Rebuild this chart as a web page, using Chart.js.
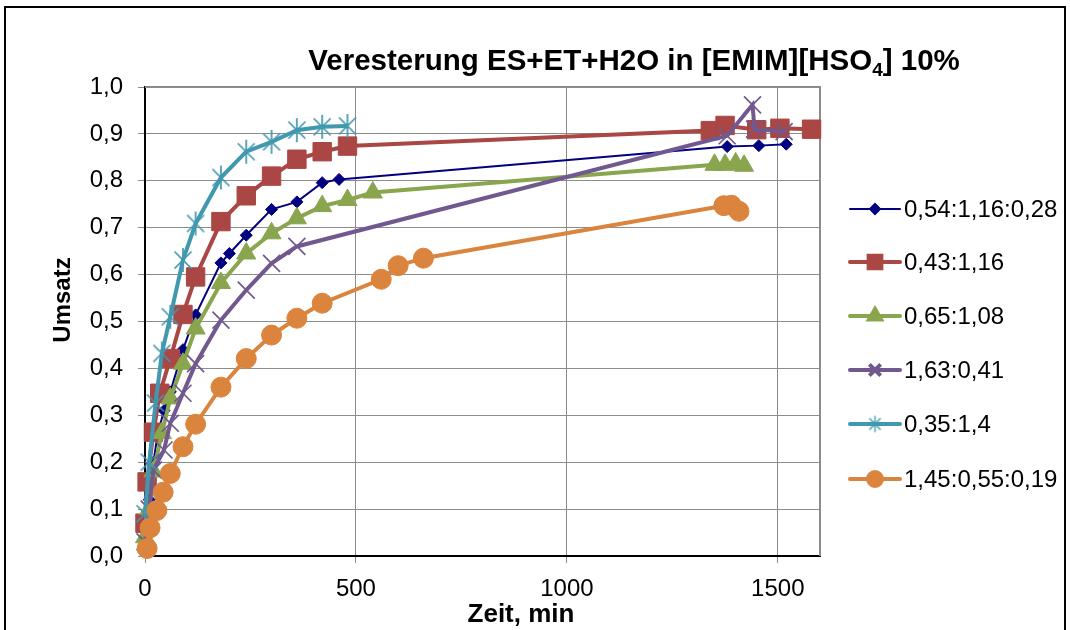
<!DOCTYPE html>
<html><head><meta charset="utf-8">
<script src="https://cdn.jsdelivr.net/npm/chart.js@4/dist/chart.umd.min.js"></script>
<style>html,body{margin:0;padding:0;background:#fff}#wrap{width:1070px;height:630px}</style>
</head><body><div id="wrap"><canvas id="c" width="1070" height="630"></canvas></div>
<script>
// ---- data ----
const seriesNames = ['0,54:1,16:0,28','0,43:1,16','0,65:1,08','1,63:0,41','0,35:1,4','1,45:0,55:0,19'];
const xTicks = [0, 500, 1000, 1500];
const xTitle = 'Zeit, min';
const yTitle = 'Umsatz';

const t1 = [0,10,20,30,45,60,90,120,180,200,240,300,360,420,460,1380,1455,1520];
const v1 = [0.04,0.12,0.2,0.26,0.31,0.35,0.44,0.514,0.625,0.645,0.684,0.739,0.755,0.796,0.803,0.873,0.875,0.878];

const t2 = [0,5,20,35,60,90,120,180,240,300,360,420,480,1340,1375,1450,1505,1580];
const v2 = [0.07,0.158,0.264,0.347,0.421,0.515,0.595,0.713,0.768,0.81,0.846,0.862,0.874,0.907,0.918,0.909,0.912,0.91];

const t3 = [0,10,20,40,60,90,120,180,240,300,360,420,480,540,1350,1375,1400,1420];
const v3 = [0.04,0.1,0.18,0.262,0.336,0.41,0.485,0.582,0.645,0.688,0.72,0.746,0.759,0.775,0.834,0.834,0.837,0.832];

const t4 = [0,10,20,45,60,90,120,180,240,300,360,1380,1440,1445,1515];
const v4 = [0.03,0.1,0.183,0.226,0.283,0.347,0.41,0.503,0.567,0.624,0.66,0.896,0.962,0.91,0.905];

const t5 = [0,10,25,40,60,90,120,180,240,300,360,420,480];
const v5 = [0.09,0.2,0.326,0.432,0.51,0.631,0.709,0.807,0.862,0.883,0.908,0.915,0.917];

const t6 = [5,12,28,43,60,90,120,180,240,300,360,420,560,600,660,1372,1390,1408];
const v6 = [0.016,0.06,0.097,0.136,0.176,0.233,0.281,0.36,0.421,0.471,0.507,0.539,0.59,0.619,0.635,0.747,0.748,0.735];

// ---- styles ----
const colors = ['#000080','#AA4643','#89A54E','#71588F','#4198AF','#DB843D'];
const FAM = '"Liberation Sans", Arial, sans-serif';

function makeStar(color, r, lw){
  const s = Math.ceil(2*r + lw*2), c = document.createElement('canvas');
  c.width = s; c.height = s;
  const g = c.getContext('2d'), m = s/2;
  g.strokeStyle = color; g.lineWidth = lw; g.lineCap='butt';
  const d = r*Math.SQRT1_2;
  g.beginPath();
  g.moveTo(m-d,m-d); g.lineTo(m+d,m+d);
  g.moveTo(m+d,m-d); g.lineTo(m-d,m+d);
  g.moveTo(m,m-r); g.lineTo(m,m+r);
  g.stroke();
  return c;
}
const starPlot = makeStar(colors[4], 12, 1.7);
const starLeg = makeStar(colors[4], 8, 1.4);

const pstyles = ['rectRot','rect','triangle','crossRot',starPlot,'circle'];
const pradius = [6,13,11,12,12,10];
const lwidths = [2,4,4,4,4,4];
const legStyles = ['rectRot','rect','triangle','crossRot',starLeg,'circle'];
const legRadius = [5,9,7,8,8,7];

const T = [t1,t2,t3,t4,t5,t6], V = [v1,v2,v3,v4,v5,v6];
const datasets = seriesNames.map((n,i)=>({
  label: n,
  data: T[i].map((t,k)=>({x:t, y:V[i][k]})),
  borderColor: colors[i],
  backgroundColor: colors[i],
  borderWidth: lwidths[i],
  pointStyle: pstyles[i],
  pointRadius: pradius[i],
  pointHoverRadius: pradius[i],
  pointBorderWidth: i===3 ? 1.7 : 1,
  pointBackgroundColor: colors[i],
  pointBorderColor: colors[i],
  tension: 0,
  clip: false,
  order: 6 - i
}));

const framePlugin = {
  id:'frame',
  beforeDatasetsDraw(chart){
    const {ctx, chartArea:a} = chart;
    ctx.save();
    ctx.strokeStyle = '#8c8c8c'; ctx.lineWidth = 2;
    ctx.beginPath();
    ctx.moveTo(a.left, a.top); ctx.lineTo(a.right, a.top); ctx.lineTo(a.right, a.bottom);
    ctx.stroke();
    ctx.restore();
  },
  afterDraw(chart){
    const ctx = chart.ctx;
    ctx.save();
    // outer frame
    ctx.strokeStyle = '#000'; ctx.lineWidth = 2;
    ctx.strokeRect(5, 7, 1060, 640);
    // title with subscript
    ctx.fillStyle = '#000';
    ctx.textBaseline = 'alphabetic';
    const big = 'bold 29.5px ' + FAM;
    const small = 'bold 19px ' + FAM;
    const p1 = 'Veresterung ES+ET+H2O in [EMIM][HSO', p2 = '4', p3 = '] 10%';
    ctx.font = big; const w1 = ctx.measureText(p1).width, w3 = ctx.measureText(p3).width;
    ctx.font = small; const w2 = ctx.measureText(p2).width;
    const cx = 634, by = 70;
    let x = cx - (w1+w2+w3)/2;
    ctx.font = big; ctx.textAlign='left'; ctx.fillText(p1, x, by); x += w1;
    ctx.font = small; ctx.fillText(p2, x, by+6); x += w2;
    ctx.font = big; ctx.fillText(p3, x, by);
    // axis titles
    ctx.textAlign = 'center'; ctx.textBaseline = 'middle';
    ctx.font = 'bold 26px ' + FAM;
    ctx.fillText(xTitle, 521, 615);
    ctx.save();
    ctx.translate(63, 300); ctx.rotate(-Math.PI/2);
    ctx.font = 'bold 24px ' + FAM;
    ctx.fillText(yTitle, 0, 0);
    ctx.restore();
    // legend
    const ys = [209,262,316,370,424,479];
    ctx.textAlign = 'left'; ctx.textBaseline = 'middle';
    ctx.font = '24px ' + FAM;
    seriesNames.forEach((n,i)=>{
      const y = ys[i];
      ctx.strokeStyle = colors[i]; ctx.lineWidth = lwidths[i]; ctx.lineCap='round';
      ctx.beginPath(); ctx.moveTo(850, y); ctx.lineTo(900, y); ctx.stroke();
      ctx.fillStyle = colors[i]; ctx.strokeStyle = colors[i]; ctx.lineCap='butt';
      Chart.helpers.drawPoint(ctx, {pointStyle: legStyles[i], radius: legRadius[i], borderWidth: i===3?1.5:1, rotation:0}, 875, y);
      ctx.fillStyle = '#000';
      ctx.fillText(n, 904, y+1);
    });
    ctx.restore();
  }
};

const tickFont = {family:FAM, size:24};

new Chart(document.getElementById('c'), {
  type:'line',
  data:{datasets},
  options:{
    responsive:false,
    animation:false,
    devicePixelRatio:1,
    layout:{padding:{left:0, top:87, right:250, bottom:0}},
    plugins:{legend:{display:false}, title:{display:false}, tooltip:{enabled:false}},
    scales:{
      x:{
        type:'linear', min:0, max:1600,
        afterBuildTicks(s){ s.ticks = xTicks.map(v=>({value:v})); },
        afterFit(s){ s.height = 74; },
        ticks:{font:tickFont, color:'#000', padding:12, maxRotation:0, callback:v=>String(v)},
        grid:{color:'#8c8c8c', lineWidth:1, tickLength:7, tickColor:'#8c8c8c'},
        border:{color:'#000', width:2},
        title:{display:false}
      },
      y:{
        min:0, max:1,
        afterFit(s){ s.width = 145; },
        ticks:{stepSize:0.1, font:tickFont, color:'#000', padding:15, callback:v=>v.toFixed(1).replace('.',',')},
        grid:{color:'#8c8c8c', lineWidth:1, tickLength:7, tickColor:'#8c8c8c'},
        border:{color:'#000', width:2},
        title:{display:false}
      }
    }
  },
  plugins:[framePlugin]
});
</script></body></html>
